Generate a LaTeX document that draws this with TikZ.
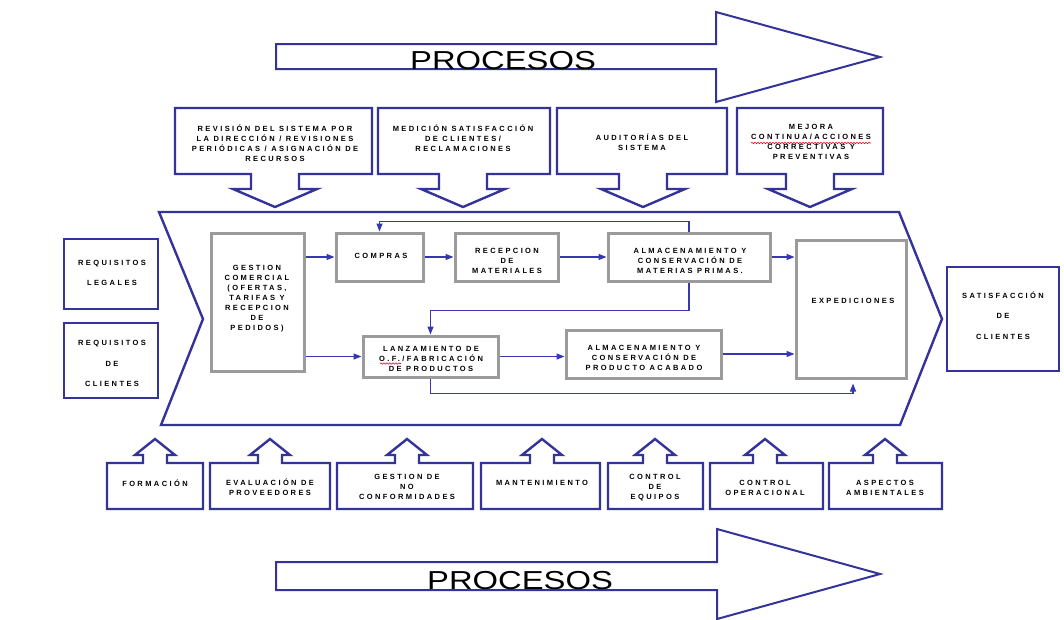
\documentclass[tikz,border=0pt]{standalone}
\usepackage{fontspec}
\setmainfont{Liberation Sans}
\newfontfamily\lblfont[LetterSpace=32]{Liberation Sans}
\usetikzlibrary{arrows.meta,decorations.pathmorphing,calc}
\definecolor{dblue}{RGB}{51,51,153}
\definecolor{cblue}{RGB}{55,55,175}
\definecolor{boxgray}{RGB}{155,155,155}
\newcommand\topcallout[3]{\draw[bl] ({#3-24},174) -- (#1,174) -- (#1,108) -- (#2,108) -- (#2,174) -- ({#3+24},174) -- ({#3+24},189) -- ({#3+42},189) -- (#3,207) -- ({#3-42},189) -- ({#3-24},189) -- cycle;}
\newcommand\botcallout[3]{\draw[bl] ({#3-12},463) -- (#1,463) -- (#1,509) -- (#2,509) -- (#2,463) -- ({#3+12},463) -- ({#3+12},455) -- ({#3+20},455) -- (#3,439) -- ({#3-20},455) -- ({#3-12},455) -- cycle;}
\begin{document}
\begin{tikzpicture}[x=1pt,y=-1pt,
  bl/.style={draw=dblue,line width=2.4pt,line join=miter},
  big/.style={draw=dblue,line width=2pt,line join=miter},
  gbx/.style={draw=boxgray,line width=3pt,inner sep=0pt},
  bbx/.style={draw=dblue,line width=2.6pt,inner sep=0pt},
  txt/.style={font=\lblfont\bfseries\fontsize{7.5}{10}\selectfont,align=center,inner sep=0pt,text=black},
  wtxt/.style={font=\lblfont\bfseries\fontsize{7.5}{20.5}\selectfont,align=center,inner sep=0pt,text=black},
  conn/.style={draw=cblue,line width=1.3pt,-{Triangle[length=8pt,width=6pt]}},
  proc/.style={font=\fontsize{26}{26}\selectfont,xscale=1.26,anchor=base,inner sep=0pt}]
\useasboundingbox (0,0) rectangle (1064,619);

% big process arrows
\draw[big] (276,44) -- (716,44) -- (716,12) -- (880,57) -- (716,102) -- (716,69) -- (276,69) -- cycle;
\node[proc] (proc1) at (503,69) {PROCESOS};
\draw[big] (276,562) -- (717,562) -- (717,529) -- (880,574) -- (717,619) -- (717,590) -- (276,590) -- cycle;
\node[proc] (proc2) at (520,589) {PROCESOS};

% top callouts
\topcallout{175}{372}{275}
\topcallout{378}{550}{463}
\topcallout{557}{727}{643}
\topcallout{737}{883}{810}
\node[txt] (t1) at (275,143) {REVISIÓN DEL SISTEMA POR\\LA DIRECCIÓN / REVISIONES\\PERIÓDICAS / ASIGNACIÓN DE\\RECURSOS};
\node[txt] (t2) at (463,138) {MEDICIÓN SATISFACCIÓN\\DE CLIENTES/\\RECLAMACIONES};
\node[txt] (t3) at (642,142.5) {AUDITORÍAS DEL\\SISTEMA};
\node[txt] (t4) at (811,142) {MEJORA\\CONTINUA/ACCIONES\\CORRECTIVAS Y\\PREVENTIVAS};
\draw[red,line width=0.6pt,decorate,decoration={snake,amplitude=0.7pt,segment length=3pt}] (751,143) -- (871,143);

% chevron
\draw[bl] (159,212) -- (899,212) -- (942,319) -- (900,425) -- (161,425) -- (203,319) -- cycle;

% side boxes
\node[bbx,minimum width=94,minimum height=70] (legal) at (111,274) {};
\node[wtxt] (legalt) at (112,273) {REQUISITOS\\LEGALES};
\node[bbx,minimum width=94,minimum height=75] (cli) at (111,360.5) {};
\node[wtxt] (clit) at (112,363.5) {REQUISITOS\\DE\\CLIENTES};
\node[bbx,minimum width=112,minimum height=104] (sat) at (1003,319) {};
\node[wtxt] (satt) at (1003,315.5) {SATISFACCIÓN\\DE\\CLIENTES};

% process boxes
\node[gbx,minimum width=93,minimum height=138] (gest) at (257.5,302) {};
\node[txt] (gestt) at (257,298.5) {GESTION\\COMERCIAL\\(OFERTAS,\\TARIFAS Y\\RECEPCION\\DE\\PEDIDOS)};
\node[gbx,minimum width=87,minimum height=48] (compras) at (379.5,257) {};
\node[txt] (comprast) at (381,256) {COMPRAS};
\node[gbx,minimum width=103,minimum height=48] (recep) at (506.5,257) {};
\node[txt] (recept) at (507,261) {RECEPCION\\DE\\MATERIALES};
\node[gbx,minimum width=162,minimum height=48] (almmp) at (689,257) {};
\node[txt] (almmpt) at (690,261) {ALMACENAMIENTO Y\\CONSERVACIÓN DE\\MATERIAS PRIMAS.};
\node[gbx,minimum width=110,minimum height=138] (exp) at (851,309) {};
\node[txt] (expt) at (853,301) {EXPEDICIONES};
\node[gbx,minimum width=135,minimum height=41] (lanz) at (430.5,356.5) {};
\node[txt] (lanzt) at (431,358.5) {LANZAMIENTO DE\\O.F./FABRICACIÓN\\DE PRODUCTOS};
\draw[red,line width=0.6pt,decorate,decoration={snake,amplitude=0.7pt,segment length=3pt}] (380,363.5) -- (401,363.5);
\node[gbx,minimum width=155,minimum height=48] (almpa) at (643.5,354) {};
\node[txt] (almpat) at (644,357.5) {ALMACENAMIENTO Y\\CONSERVACIÓN DE\\PRODUCTO ACABADO};

% connectors
\draw[conn] (gest.east |- compras.west) -- (compras.west);
\draw[conn] (gest.east |- lanz.west) -- (lanz.west);
\draw[conn] (compras.east) -- (recep.west);
\draw[conn] (recep.east) -- (almmp.west);
\draw[conn] (almmp.east) -- (almmp.east -| exp.west);
\draw[conn] (almmp.north) -- ++(0,-10) -| (compras.north);
\draw[conn] (almmp.south) -- ++(0,28) -| (lanz.north);
\draw[conn] (lanz.east) -- (lanz.east -| almpa.west);
\draw[conn] (almpa.east) -- (almpa.east -| exp.west);
\coordinate (expin) at ($(exp.south)+(2,4)$);
\draw[conn] (lanz.south) -- ++(0,15) -| (expin);

% bottom callouts
\botcallout{107}{203}{155}
\botcallout{210}{330}{270}
\botcallout{337}{473}{407}
\botcallout{481}{600}{542}
\botcallout{608}{703}{655}
\botcallout{710}{823}{765}
\botcallout{829}{942}{885}
\node[txt] (b1) at (155,483) {FORMACIÓN};
\node[txt] (b2) at (270,487.5) {EVALUACIÓN DE\\PROVEEDORES};
\node[txt] (b3) at (407,487) {GESTION DE\\NO\\CONFORMIDADES};
\node[txt] (b4) at (542,483) {MANTENIMIENTO};
\node[txt] (b5) at (655,487.5) {CONTROL\\DE\\EQUIPOS};
\node[txt] (b6) at (765,487.5) {CONTROL\\OPERACIONAL};
\node[txt] (b7) at (885,487.5) {ASPECTOS\\AMBIENTALES};
\end{tikzpicture}
\end{document}
